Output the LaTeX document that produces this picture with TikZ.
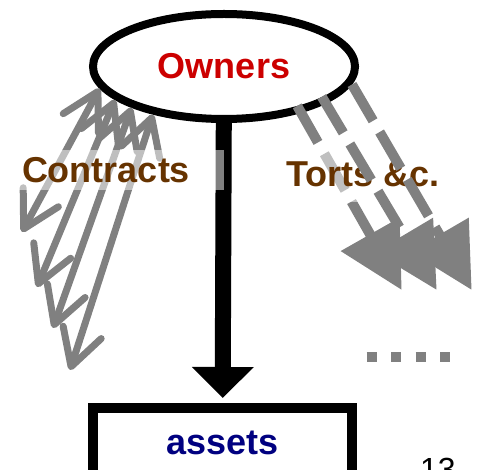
\documentclass[tikz,border=0pt]{standalone}
\usepackage{fontspec}
\setmainfont{Liberation Sans}
\usepackage{tikz}
\usetikzlibrary{shapes.geometric, arrows.meta}
\definecolor{ownerred}{HTML}{CC0000}
\definecolor{labelbrown}{HTML}{663300}
\definecolor{assetnavy}{HTML}{000080}
\definecolor{linkgray}{HTML}{808080}
\tikzstyle{party} = [ellipse, draw=black, line width=8pt, fill=white, minimum width=262pt, minimum height=105pt, inner sep=0pt, text=ownerred, font=\fontsize{36}{40}\selectfont\bfseries]
\tikzstyle{pool} = [rectangle, draw=black, line width=10pt, fill=white, minimum width=259pt, minimum height=70pt, inner sep=0pt, text=assetnavy, font=\fontsize{36}{40}\selectfont\bfseries]
\tikzstyle{tag} = [fill=white, fill opacity=0.5, text opacity=1, text=labelbrown, inner sep=0pt, font=\fontsize{36}{40}\selectfont\bfseries]
\tikzstyle{owns} = [line width=16pt, ->, >={Triangle[length=31pt, width=60pt]}]
\tikzstyle{contract} = [draw=linkgray, line width=7pt, line cap=round, <->, >={Straight Barb[round, length=36pt, width=40pt]}]
\tikzstyle{tort} = [draw=linkgray, line width=10pt, dash pattern=on 42pt off 13pt, shorten <=-8pt, ->, >={Triangle[length=64pt, width=65pt]}]

\begin{document}
\begin{tikzpicture}[x=1pt, y=-1pt]
  \useasboundingbox (0,0) rectangle (477,470);

  % Owners and assets
  \node[party] (owners) at (224,66.5) {Owners};
  \node[pool] (assets) at (222.5,443) {assets};
  \draw[owns, shorten >=5pt] (owners) -- (assets);

  % Contracts (left fan)
  \coordinate (ctr1) at (22,232);
  \coordinate (ctr2) at (37,287);
  \coordinate (ctr3) at (53,328);
  \coordinate (ctr4) at (70,370);
  \draw[contract] (owners.190) -- (ctr1);
  \draw[contract] (owners.197) -- (ctr2);
  \draw[contract] (owners.204) -- (ctr3);
  \draw[contract] (owners.214) -- (ctr4);
  \node[tag, text width=198pt, align=left, inner xsep=4pt, minimum height=40pt] (contracts) at (121,170) {Contracts};

  % Torts (right fan)
  \coordinate (tort1) at (401.7,290);
  \coordinate (tort2) at (436.7,290);
  \coordinate (tort3) at (471.7,290);
  \draw[tort] (owners.329) -- (tort1);
  \node[tag, minimum width=166pt, minimum height=55pt] (torts) at (363,174.5) {Torts \&c.};
  \draw[tort] (owners.340) -- (tort2);
  \draw[tort, shorten <=0pt] (owners.352) -- (tort3);

  % more parties
  \coordinate (moreL) at (366.7,356.7);
  \coordinate (moreR) at (450.2,356.7);
  \draw[linkgray, line width=10pt, dash pattern=on 10pt off 14.5pt] (moreL) -- (moreR);

  % page number
  \node[anchor=base west, inner sep=0pt, font=\fontsize{32}{36}\selectfont] (page) at (420,481) {13};
\end{tikzpicture}
\end{document}
